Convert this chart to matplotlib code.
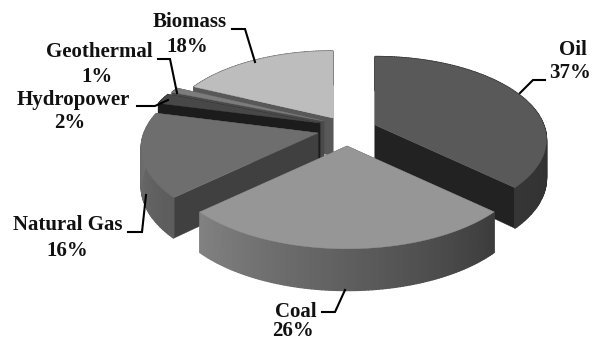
import numpy as np
import matplotlib
matplotlib.use("Agg")
import matplotlib.pyplot as plt
from matplotlib.colors import to_rgb

sources = ["Oil", "Coal", "Natural Gas", "Hydropower", "Geothermal", "Biomass"]
shares = [37, 26, 16, 2, 1, 18]

# look of each slice
top_colors = ["#595959", "#969696", "#6e6e6e", "#484848", "#7c7c7c", "#bdbdbd"]
edge_colors = ["#222222", "#3f3f3f", "#404040", "#1c1c1c", "#4a4a4a", "#585858"]
rim_start = ["#202020", "#3c3c3c", "#5c5c5c", "#1c1c1c", "#4a4a4a", "#585858"]
rim_end = ["#363636", "#828282", "#727272", "#1c1c1c", "#4a4a4a", "#585858"]
apex_x = [375, 347, 318, 320, 324, 333]
apex_y = [125, 146, 133, 123, 121, 118]
radius = [0.97, 1.02, 1.0, 1.0, 1.0, 0.95]
draw_order = [5, 4, 3, 2, 0, 1]

# label centres and leader lines, pixels
label_x = [573, 296, 68, 73, 99, 190]
label_y = [50, 312, 225, 100, 52, 22]
pct_x = [570, 293, 67, 70, 97, 187]
pct_y = [73, 331, 251, 123, 77, 47]
leader_x = [[520, 533, 545], [322, 335, 345], [128, 142, 146],
            [137, 155, 168], [158, 170, 177], [232, 245, 255]]
leader_y = [[93, 80, 80], [312, 312, 290], [232, 232, 195],
            [106, 106, 100], [59, 59, 93], [29, 29, 62]]

A, B, K, DEPTH = 174, 83, 0.176, 38


def project(theta, cx, cy, r=1.0, drop=False):
    u, v = np.sin(theta), np.cos(theta)
    s = r / (1 + K * v)
    x = cx + A * u * s
    y = cy - B * v * s
    if drop:
        y = y + DEPTH * (1 - 0.1 * v)
    return x, y


fig = plt.figure(figsize=(5.93, 3.40), dpi=100)
ax = fig.add_axes([0, 0, 1, 1])
ax.set_xlim(0, 593)
ax.set_ylim(340, 0)
ax.axis("off")

edges = np.radians(np.cumsum([0] + shares) * 3.6)

for i in draw_order:
    cx, cy, r = apex_x[i], apex_y[i], radius[i]
    t0, t1 = edges[i], edges[i + 1]
    base = cy + DEPTH

    # flat cut faces
    for t in (t0, t1):
        xt, yt = project(t, cx, cy, r)
        xb, yb = project(t, cx, cy, r, drop=True)
        ax.fill([cx, xt, xb, cx], [cy, yt, yb, base],
                color=edge_colors[i], lw=0.3)

    # outer rim, shaded in small steps
    steps = max(int((t1 - t0) * 60), 2)
    ts = np.linspace(t0, t1, steps + 1)
    c0, c1 = np.array(to_rgb(rim_start[i])), np.array(to_rgb(rim_end[i]))
    for j in range(steps):
        xa, ya = project(ts[j], cx, cy, r)
        xc, yc = project(ts[j + 1], cx, cy, r)
        xa2, ya2 = project(ts[j], cx, cy, r, drop=True)
        xc2, yc2 = project(ts[j + 1], cx, cy, r, drop=True)
        col = c0 + (c1 - c0) * j / steps
        ax.fill([xa, xc, xc2, xa2], [ya, yc, yc2, ya2], color=col, lw=1.0)

    # top face
    tt = np.linspace(t0, t1, 80)
    xs, ys = project(tt, cx, cy, r)
    ax.fill(np.r_[cx, xs], np.r_[cy, ys], color=top_colors[i], lw=0.3)

for xs, ys in zip(leader_x, leader_y):
    ax.plot(xs, ys, color="black", lw=1.5, solid_joinstyle="miter")

font = dict(family="Liberation Serif", fontweight="bold", fontsize=15,
            ha="center", va="center", color="#111111")
for name, share, lx, ly, px, py in zip(sources, shares, label_x, label_y, pct_x, pct_y):
    ax.text(lx, ly, name, **font)
    ax.text(px, py, f"{share}%", **font)

fig.savefig("out.png", dpi=100)
